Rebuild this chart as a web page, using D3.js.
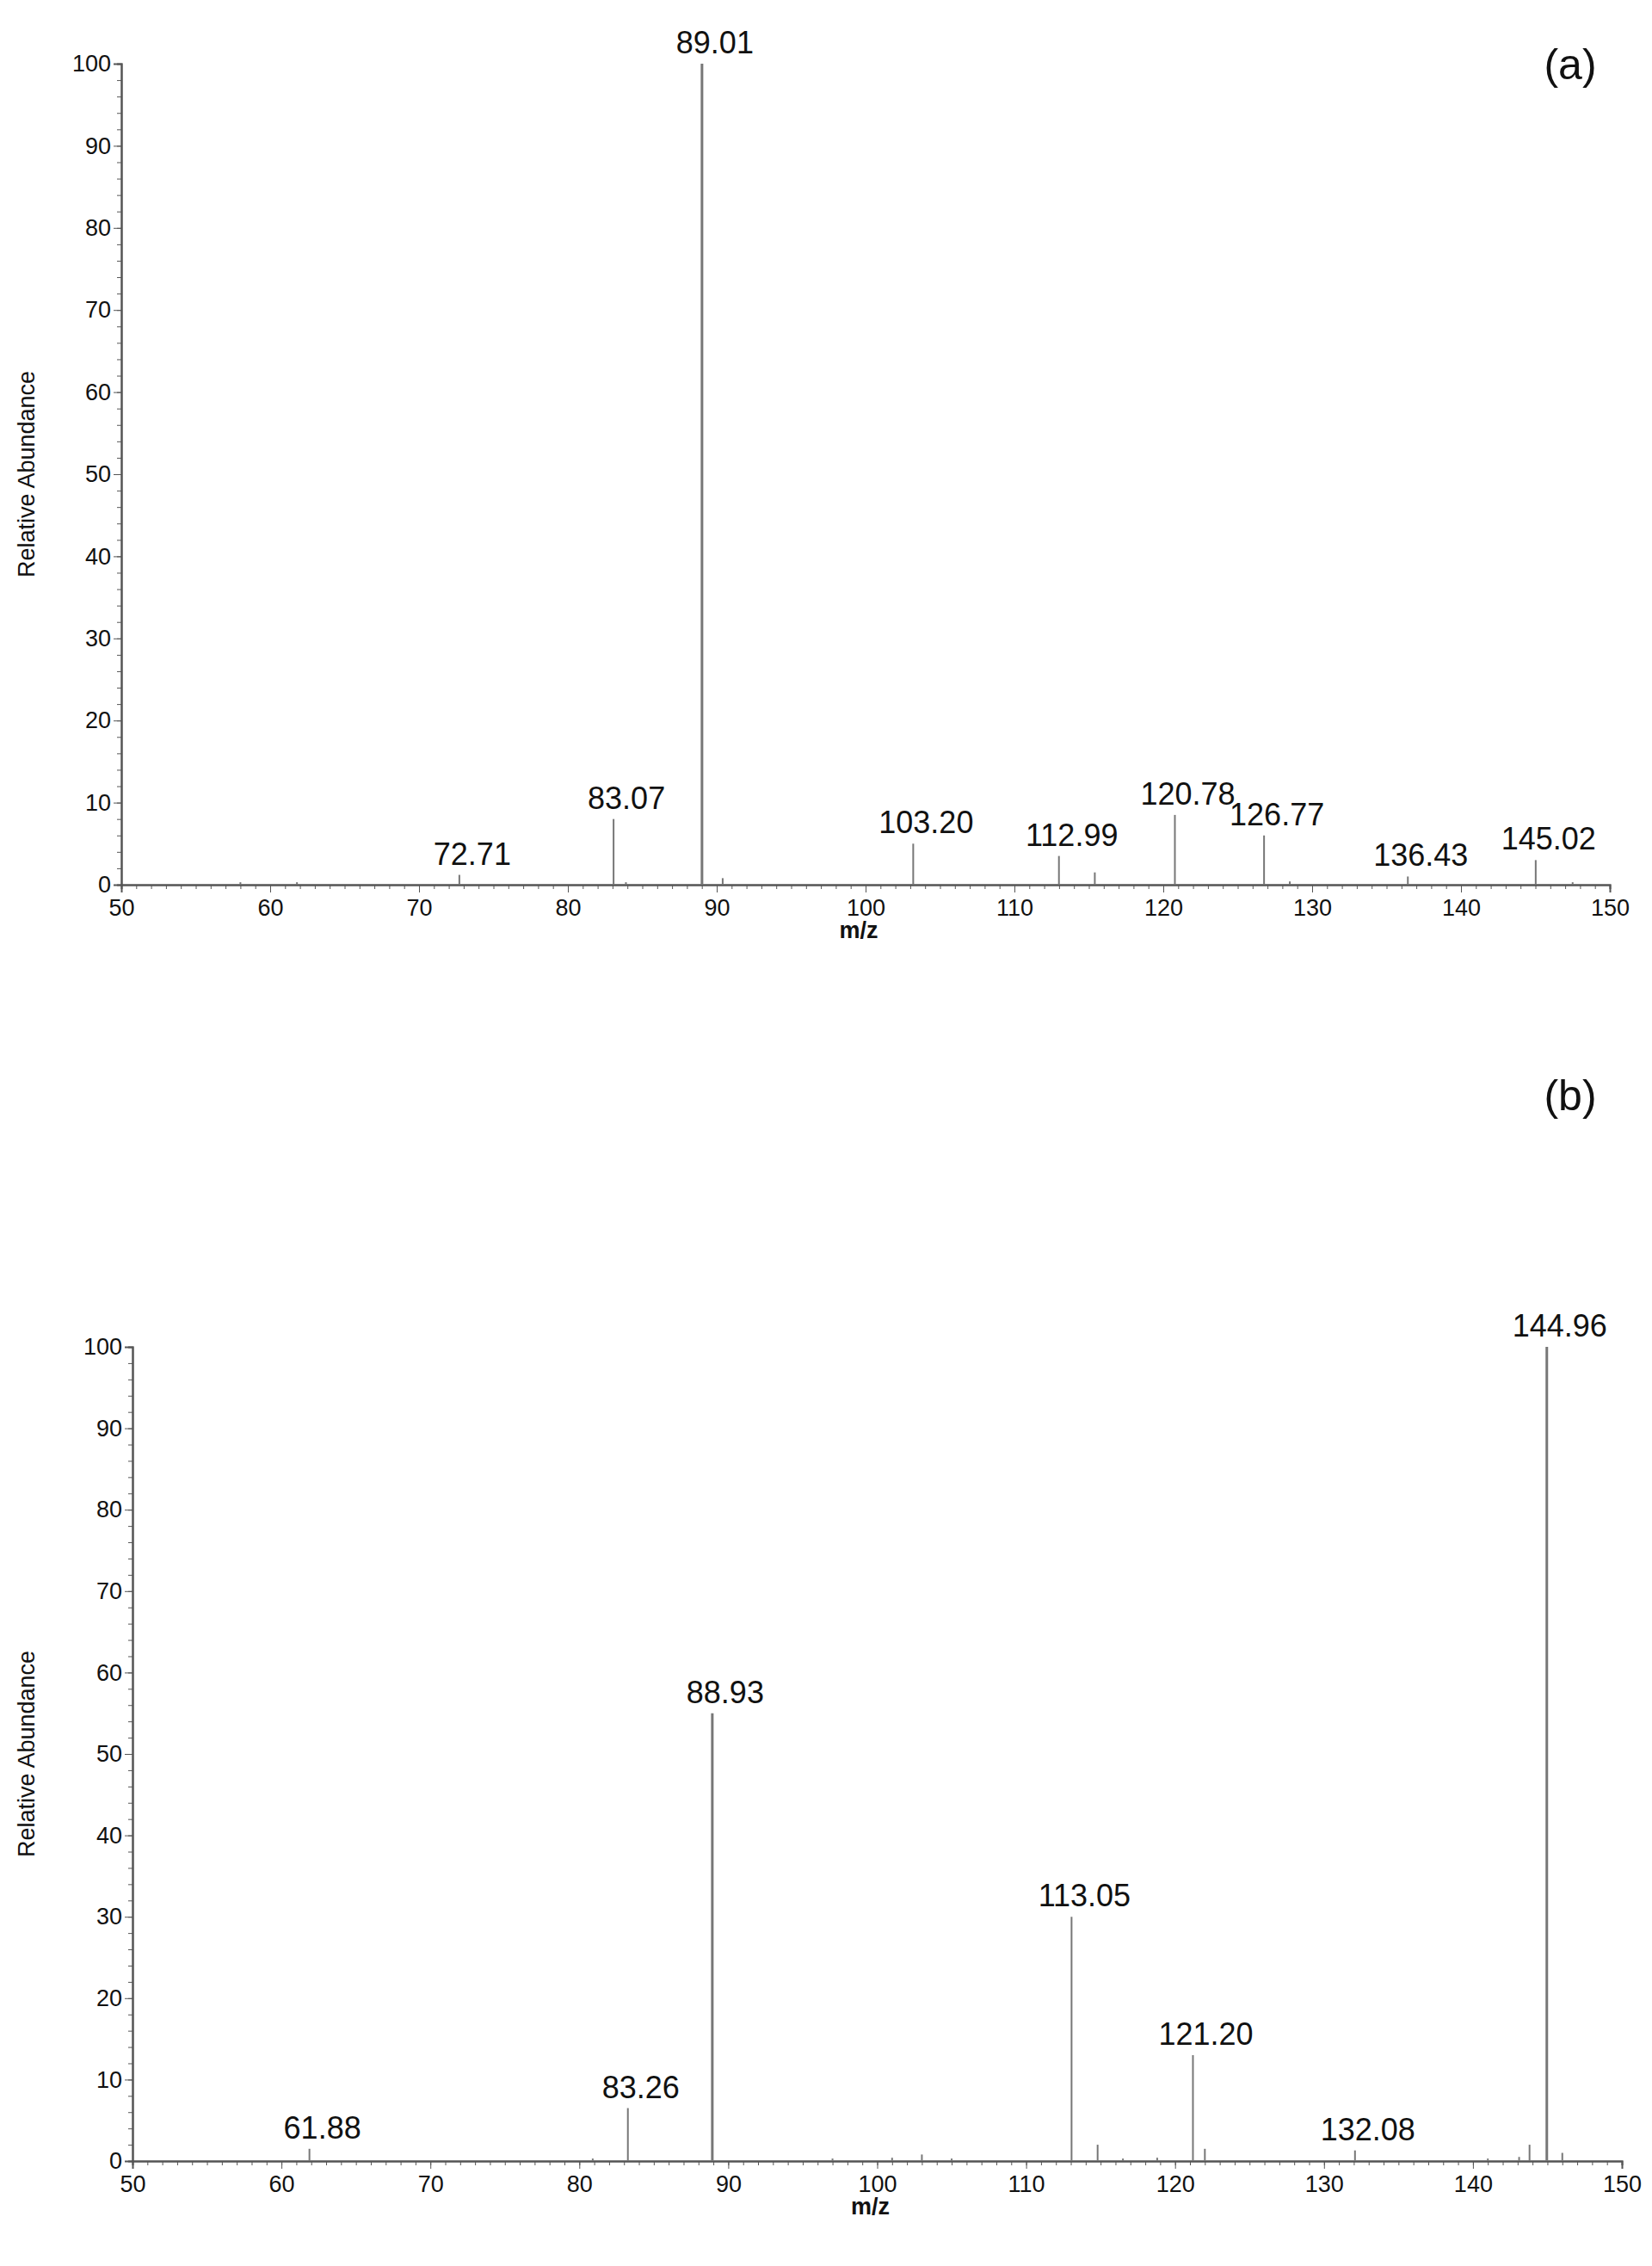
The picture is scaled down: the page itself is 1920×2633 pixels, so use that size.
<!DOCTYPE html><html><head><meta charset="utf-8">
<script src="https://cdn.jsdelivr.net/npm/d3@7"></script>
<style>body{margin:0;background:#fff}text{font-family:"Liberation Sans",Arial,sans-serif;fill:#111}</style></head><body>
<script>
const mzA=[58.0,61.8,72.71,83.07,83.9,89.01,90.4,103.20,112.99,115.4,120.78,126.77,128.5,136.43,145.02,147.5];
const abA=[0.3,0.3,1.2,8,0.3,100,0.8,5,3.5,1.5,8.5,6,0.4,1,3,0.3];
const lblA=["","","72.71","83.07","","89.01","","103.20","112.99","","120.78","126.77","","136.43","145.02",""];
const mzB=[61.88,80.9,83.26,88.93,97,101,103,105,113.05,114.8,116.5,118.8,121.20,122,132.08,141,143.1,143.8,144.96,146];
const abB=[1.5,0.3,6.5,55,0.3,0.4,0.8,0.3,30,2,0.3,0.4,13,1.5,1.3,0.3,0.5,2,100,1];
const lblB=["61.88","","83.26","88.93","","","","","113.05","","","","121.20","","132.08","","","","144.96",""];
const xTicks=[50,60,70,80,90,100,110,120,130,140,150];
const yTicks=[0,10,20,30,40,50,60,70,80,90,100];
const svg=d3.select("body").append("svg").attr("width",1920).attr("height",2633);
function panel(mz,ab,lbl,x0,x1,y0,y1,tag,tagY){
  const x=d3.scaleLinear().domain([50,150]).range([x0,x1]);
  const y=d3.scaleLinear().domain([0,100]).range([y0,y1]);
  const g=svg.append("g");
  g.append("g").attr("transform",`translate(0,${y0})`).call(d3.axisBottom(x).tickValues(d3.range(50,151,1)).tickSize(5).tickFormat(""));
  g.append("g").attr("transform",`translate(0,${y0})`).call(d3.axisBottom(x).tickValues(xTicks).tickSize(9).tickFormat(d3.format("d")))
   .selectAll("text").attr("font-size",27).attr("dy","0.9em");
  g.append("g").attr("transform",`translate(${x0},0)`).call(d3.axisLeft(y).tickValues(d3.range(0,101,2)).tickSize(5).tickFormat(""));
  g.append("g").attr("transform",`translate(${x0},0)`).call(d3.axisLeft(y).tickValues(yTicks).tickSize(9).tickFormat(d3.format("d")))
   .selectAll("text").attr("font-size",27);
  g.selectAll(".domain,line").attr("stroke","#555");
  g.selectAll("path.domain").attr("stroke-width",2);
  g.selectAll(".pk").data(mz).join("line").attr("x1",d=>x(d)).attr("x2",d=>x(d)).attr("y1",y0).attr("y2",(d,i)=>y(ab[i]))
   .attr("stroke","#777").attr("stroke-width",(d,i)=>ab[i]>50?3:2);
  g.selectAll(".lb").data(mz).join("text").attr("x",d=>x(d)+15).attr("y",(d,i)=>y(ab[i])-12)
   .attr("text-anchor","middle").attr("font-size",36).text((d,i)=>lbl[i]);
  g.append("text").attr("transform",`translate(40,${(y0+y1)/2}) rotate(-90)`).attr("text-anchor","middle").attr("font-size",27).text("Relative Abundance");
  g.append("text").attr("x",(x0+x1)/2-8).attr("y",y0+62).attr("text-anchor","middle").attr("font-size",27).attr("font-weight","bold").text("m/z");
  g.append("text").attr("x",1825).attr("y",tagY).attr("text-anchor","middle").attr("font-size",50).attr("font-family","Open Sans").text(tag);
}
panel(mzA,abA,lblA,141,1871,1028,74,"(a)",92);
panel(mzB,abB,lblB,154,1885,2511,1565,"(b)",1290);
</script></body></html>
